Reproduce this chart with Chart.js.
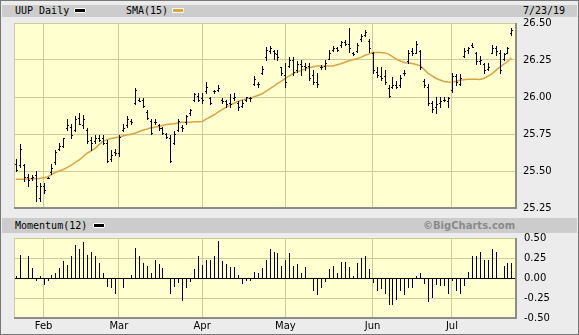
<!DOCTYPE html>
<html>
<head>
<meta charset="utf-8">
<script src="https://cdn.jsdelivr.net/npm/chart.js@4.4.1/dist/chart.umd.min.js"></script>
<style>
  body { margin: 0; background: #ececec; }
  #page { position: relative; width: 579px; height: 335px; background: #ececec; overflow: hidden; }
  #frame { position: absolute; left: 0; top: 0; width: 577px; height: 333px; border: 1px solid #777; pointer-events: none; }
  .band { position: absolute; left: 2px; width: 575px; background: #cccccc; }
  .txt { position: absolute; font: 10px "DejaVu Sans Mono", monospace; color: #000; white-space: nowrap; line-height: 12px; }
  .sw { position: absolute; height: 3px; width: 10px; border: 1px solid #fff; border-radius: 1px; }
  canvas { position: absolute; left: 0; }
</style>
</head>
<body>
<div id="page">
  <div class="band" style="top:5px;height:12px"></div>
  <div class="band" style="top:218px;height:15px"></div>
  <span class="txt" style="left:15px;top:5px">UUP Daily</span>
  <span class="sw" style="left:74px;top:8px;background:#000"></span>
  <span class="txt" style="left:126px;top:5px">SMA(15)</span>
  <span class="sw" style="left:172px;top:8px;background:#d9a441"></span>
  <span class="txt" style="left:523px;top:5px">7/23/19</span>
  <span class="txt" style="left:15px;top:220px">Momentum(12)</span>
  <span class="sw" style="left:93px;top:223px;background:#000"></span>
  <span class="txt" style="left:423px;top:220px;font:bold 10px 'DejaVu Sans',sans-serif;color:#8a8a8a">©BigCharts.com</span>
  <canvas id="price" width="579" height="215" style="top:0"></canvas>
  <canvas id="mom" width="579" height="121" style="top:214px"></canvas>
  <div id="frame"></div>
</div>
<script>
// trading days from 1/23/19 to 7/23/19, index 0..125
var monthLabels = ['Feb', 'Mar', 'Apr', 'May', 'Jun', 'Jul'];
var monthStart = [7, 26, 47, 68, 90, 110];

var high = [25.58,25.68,25.55,25.48,25.47,25.50,25.42,25.42,25.46,25.55,25.64,25.69,25.72,25.85,25.82,25.87,25.89,25.88,25.79,25.73,
  25.74,25.74,25.74,25.71,25.64,25.65,25.74,25.82,25.87,25.85,26.06,25.99,25.99,25.91,25.85,25.85,25.82,25.80,25.76,25.74,
  25.77,25.85,25.81,25.88,25.92,26.03,26.03,26.03,26.10,26.00,26.05,26.08,25.99,25.98,26.02,26.03,25.97,25.98,26.00,26.00,
  26.14,26.10,26.21,26.34,26.345,26.32,26.32,26.205,26.23,26.27,26.27,26.24,26.25,26.23,26.23,26.18,26.16,26.215,26.25,26.32,
  26.345,26.34,26.38,26.385,26.465,26.305,26.365,26.425,26.455,26.395,26.305,26.205,26.205,26.18,26.08,26.135,26.105,26.15,26.18,26.32,
  26.33,26.38,26.32,26.12,26.09,25.97,26.00,26.00,26.00,26.00,26.165,26.155,26.155,26.33,26.34,26.365,26.305,26.275,26.23,26.23,
  26.35,26.345,26.32,26.30,26.34,26.465];
var low = [25.50,25.53,25.43,25.40,25.44,25.30,25.30,25.35,25.45,25.48,25.55,25.64,25.66,25.78,25.72,25.77,25.82,25.79,25.69,25.64,
  25.69,25.70,25.68,25.56,25.57,25.61,25.60,25.77,25.80,25.82,25.95,25.97,25.93,25.85,25.75,25.82,25.78,25.75,25.72,25.56,
  25.68,25.77,25.77,25.82,25.88,25.97,25.97,25.96,26.03,25.95,26.03,26.04,25.96,25.93,25.93,25.98,25.91,25.93,25.97,25.97,
  26.08,26.07,26.155,26.25,26.295,26.26,26.25,26.15,26.07,26.205,26.15,26.17,26.15,26.18,26.115,26.09,26.07,26.19,26.19,26.255,
  26.31,26.31,26.34,26.35,26.305,26.285,26.305,26.38,26.41,26.305,26.16,26.135,26.115,26.09,26.00,26.06,26.06,26.07,26.15,26.23,
  26.285,26.295,26.19,26.07,25.945,25.90,25.89,25.93,25.97,25.93,26.035,26.08,26.08,26.27,26.295,26.335,26.225,26.225,26.165,26.18,
  26.295,26.285,26.16,26.25,26.295,26.42];
var open = [25.55,25.54,25.54,25.46,25.45,25.47,25.32,25.40,25.45,25.49,25.56,25.65,25.67,25.79,25.80,25.78,25.86,25.81,25.78,25.71,
  25.70,25.72,25.72,25.69,25.58,25.63,25.62,25.78,25.81,25.84,25.96,25.98,25.98,25.90,25.84,25.83,25.81,25.79,25.75,25.72,
  25.69,25.78,25.80,25.83,25.89,25.98,26.01,25.99,26.04,25.99,26.04,26.05,25.98,25.97,25.96,25.99,25.96,25.94,25.98,25.99,
  26.09,26.09,26.16,26.27,26.31,26.31,26.29,26.20,26.15,26.21,26.25,26.18,26.22,26.21,26.21,26.15,26.10,26.20,26.21,26.26,
  26.32,26.33,26.35,26.37,26.36,26.30,26.31,26.39,26.42,26.38,26.30,26.17,26.14,26.14,26.06,26.07,26.08,26.08,26.16,26.24,
  26.31,26.30,26.31,26.11,26.07,25.96,25.93,25.96,25.98,25.97,26.05,26.14,26.09,26.28,26.32,26.35,26.30,26.24,26.22,26.19,
  26.30,26.33,26.30,26.26,26.30,26.43];
var close = [25.51,25.65,25.46,25.44,25.46,25.40,25.40,25.37,25.455,25.52,25.63,25.67,25.72,25.81,25.74,25.85,25.82,25.85,25.70,25.69,
  25.72,25.71,25.69,25.57,25.61,25.62,25.73,25.79,25.85,25.83,26.05,25.97,25.94,25.86,25.76,25.83,25.79,25.76,25.73,25.57,
  25.75,25.84,25.79,25.87,25.91,26.02,25.98,25.98,26.07,25.96,26.04,26.06,25.97,25.95,25.95,26.00,25.93,25.96,26.00,25.99,
  26.12,26.09,26.19,26.32,26.33,26.30,26.27,26.16,26.10,26.25,26.17,26.22,26.21,26.20,26.13,26.10,26.09,26.20,26.23,26.30,
  26.33,26.32,26.37,26.36,26.33,26.29,26.35,26.41,26.44,26.33,26.18,26.15,26.13,26.10,26.01,26.08,26.07,26.13,26.16,26.30,
  26.30,26.36,26.20,26.08,25.96,25.92,25.95,25.97,25.98,25.99,26.14,26.10,26.13,26.31,26.33,26.34,26.24,26.25,26.18,26.20,
  26.33,26.31,26.18,26.29,26.33,26.45];
var sma15 = [25.444,25.444,25.445,25.446,25.447,25.448,25.450,25.455,25.460,25.475,25.490,25.500,25.510,25.525,25.540,25.557,25.575,25.598,25.620,25.636,
  25.653,25.678,25.700,25.712,25.720,25.725,25.730,25.737,25.743,25.749,25.755,25.765,25.775,25.783,25.790,25.795,25.800,25.808,25.815,25.818,
  25.820,25.825,25.830,25.830,25.830,25.832,25.833,25.835,25.850,25.865,25.880,25.898,25.915,25.930,25.945,25.958,25.970,25.978,25.986,25.993,
  26.000,26.010,26.020,26.037,26.055,26.072,26.090,26.108,26.126,26.143,26.160,26.170,26.180,26.190,26.198,26.204,26.210,26.210,26.210,26.210,
  26.210,26.218,26.225,26.235,26.245,26.252,26.258,26.268,26.280,26.290,26.300,26.300,26.300,26.298,26.290,26.272,26.255,26.243,26.232,26.229,
  26.227,26.220,26.210,26.185,26.160,26.142,26.125,26.115,26.105,26.102,26.100,26.107,26.113,26.117,26.120,26.120,26.120,26.118,26.125,26.140,
  26.155,26.178,26.200,26.220,26.240,26.265];
var momentum = [0.03,0.29,0,0.27,0.12,-0.03,0.02,-0.07,-0.03,0.04,0.06,0.12,0.21,0.16,0.28,0.41,0.36,0.45,0.29,0.32,
  0.27,0.19,0.06,-0.10,-0.11,-0.19,0,-0.11,0,0.04,0.37,0.28,0.19,0.15,0.06,0.23,0.18,0.12,0,-0.19,
  -0.10,-0.05,-0.28,-0.11,-0.035,0.11,0.27,0.16,0.23,0.23,0.28,0.46,0.21,0.18,0.14,0.14,0.04,-0.06,-0.03,-0.03,
  0.08,0.06,0.12,0.23,0.36,0.32,0.31,0.15,0.23,0.31,0.15,0.18,0.06,0.14,0,-0.145,-0.20,-0.11,-0.035,0.11,
  0.15,0.06,0.20,0.20,0.14,0.03,0.19,0.25,0.28,0.11,-0.045,-0.145,-0.12,-0.19,-0.33,-0.33,-0.26,-0.145,-0.20,-0.11,
  -0.11,0.03,0.06,-0.065,-0.29,-0.24,-0.08,-0.09,-0.09,-0.19,-0.02,-0.145,-0.19,-0.09,0.08,0.27,0.28,0.32,0.23,0.23,
  0.36,0.32,0,0.15,0.19,0.19];

var gridColor = '#cccc99';
var tickFont = { family: 'DejaVu Sans', size: 10 };

// dotted pale yellow plot background
var pat = document.createElement('canvas');
pat.width = 2; pat.height = 2;
var pc = pat.getContext('2d');
pc.fillStyle = '#ffffdc'; pc.fillRect(0, 0, 2, 2);
pc.fillStyle = '#ffffc6'; pc.fillRect(0, 0, 1, 1); pc.fillRect(1, 1, 1, 1);

var panel = {
  id: 'panel',
  beforeDraw: function (chart) {
    var ctx = chart.ctx, a = chart.chartArea;
    ctx.save();
    ctx.fillStyle = ctx.createPattern(pat, 'repeat');
    ctx.fillRect(a.left, a.top, a.right - a.left, a.bottom - a.top);
    ctx.restore();
  },
  afterDraw: function (chart) {
    var ctx = chart.ctx, a = chart.chartArea;
    ctx.save();
    ctx.fillStyle = gridColor;
    ctx.fillRect(a.left, a.top, 1, a.bottom - a.top);
    ctx.fillRect(a.left, a.top, a.right - a.left, 1);
    ctx.fillStyle = '#8c8c8c';
    ctx.fillRect(a.left, a.bottom - 1, a.right - a.left + 2, 2);
    ctx.fillRect(a.right, a.top, 2, a.bottom - a.top + 1);
    ctx.restore();
  }
};

// open-high-low-close bars
var ohlc = {
  id: 'ohlc',
  afterDatasetsDraw: function (chart) {
    var ctx = chart.ctx, x = chart.scales.x, y = chart.scales.y;
    ctx.save();
    ctx.fillStyle = '#000';
    for (var i = 0; i < high.length; i++) {
      var px = Math.round(x.getPixelForValue(i));
      var yt = Math.round(y.getPixelForValue(high[i]));
      var yb = Math.round(y.getPixelForValue(low[i]));
      ctx.fillRect(px, yt, 1, Math.max(1, yb - yt + 1));
      ctx.fillRect(px - 1, Math.round(y.getPixelForValue(open[i])), 1, 1);
      ctx.fillRect(px + 1, Math.round(y.getPixelForValue(close[i])), 1, 1);
    }
    ctx.restore();
  }
};

var momBars = {
  id: 'momBars',
  afterDatasetsDraw: function (chart) {
    var ctx = chart.ctx, x = chart.scales.x, y = chart.scales.y;
    var y0 = Math.round(y.getPixelForValue(0));
    ctx.save();
    ctx.fillStyle = '#000';
    for (var i = 0; i < momentum.length; i++) {
      if (!momentum[i]) continue;
      var px = Math.round(x.getPixelForValue(i));
      var yv = Math.round(y.getPixelForValue(momentum[i]));
      ctx.fillRect(px, Math.min(y0, yv), 1, Math.abs(yv - y0) + 1);
    }
    ctx.restore();
  }
};

function monthTicks(axis) {
  axis.ticks = monthStart.map(function (v) { return { value: v }; });
}

function xAxis(showLabels) {
  return {
    type: 'linear',
    min: -0.45,
    max: 125.9,
    afterBuildTicks: monthTicks,
    grid: { color: gridColor, drawTicks: false },
    border: { display: false },
    ticks: {
      display: showLabels,
      autoSkip: false,
      maxRotation: 0,
      padding: 2,
      color: '#000',
      font: tickFont,
      callback: function (v) { return monthLabels[monthStart.indexOf(v)]; }
    },
    afterFit: function (s) { s.height = showLabels ? 17 : 0; }
  };
}

// right-hand value axis; label overflow must not shrink the plot box
function yAxisFit(s) {
  s.width = 64;
  s.paddingTop = 0;
  s.paddingBottom = 0;
}

new Chart(document.getElementById('price'), {
  type: 'line',
  data: {
    datasets: [{
      label: 'SMA(15)',
      data: sma15.map(function (v, i) { return { x: i, y: v }; }),
      borderColor: '#d9a441',
      borderWidth: 1.5,
      pointRadius: 0,
      tension: 0
    }]
  },
  options: {
    responsive: false,
    animation: false,
    events: [],
    layout: { padding: { left: 14, top: 23, right: 0, bottom: 7 } },
    plugins: { legend: { display: false }, tooltip: { enabled: false } },
    scales: {
      x: xAxis(false),
      y: {
        position: 'right',
        min: 25.25,
        max: 26.5,
        grid: { color: gridColor, drawTicks: false },
        border: { display: false },
        ticks: {
          stepSize: 0.25,
          padding: 8,
          color: '#000',
          font: tickFont,
          callback: function (v) { return v.toFixed(2); }
        },
        afterFit: yAxisFit
      }
    }
  },
  plugins: [panel, ohlc]
});

new Chart(document.getElementById('mom'), {
  type: 'line',
  data: {
    datasets: [{
      label: 'Momentum(12)',
      data: momentum.map(function (v, i) { return { x: i, y: v }; }),
      showLine: false,
      pointRadius: 0
    }]
  },
  options: {
    responsive: false,
    animation: false,
    events: [],
    layout: { padding: { left: 14, top: 24, right: 0, bottom: 0 } },
    plugins: { legend: { display: false }, tooltip: { enabled: false } },
    scales: {
      x: xAxis(true),
      y: {
        position: 'right',
        min: -0.5,
        max: 0.5,
        grid: {
          drawTicks: false,
          color: function (c) { return c.tick && c.tick.value === 0 ? '#000' : gridColor; }
        },
        border: { display: false },
        ticks: {
          stepSize: 0.25,
          padding: 9,
          color: '#000',
          font: tickFont,
          callback: function (v) { return v.toFixed(2); }
        },
        afterFit: yAxisFit
      }
    }
  },
  plugins: [panel, momBars]
});
</script>
</body>
</html>
